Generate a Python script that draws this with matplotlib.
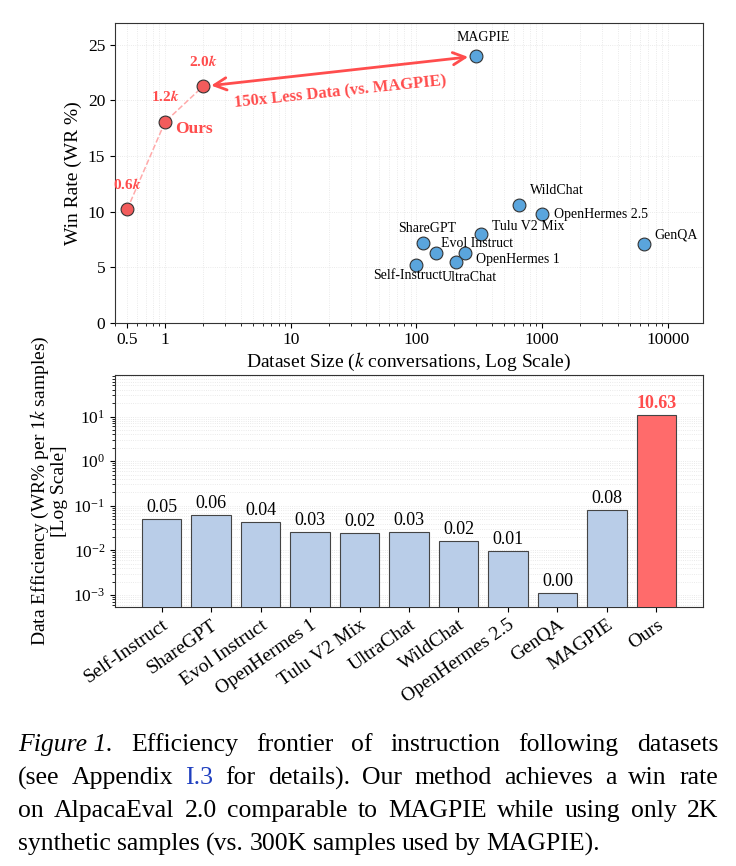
import matplotlib
matplotlib.use("Agg")
import matplotlib.pyplot as plt
from matplotlib.ticker import LogLocator, NullFormatter

plt.rcParams['font.family'] = ['Liberation Serif', 'DejaVu Serif']
plt.rcParams['mathtext.fontset'] = 'stix'

# scatter data (k conversations, win rate %)
names = ['Self-Instruct', 'ShareGPT', 'Evol Instruct', 'OpenHermes 1', 'Tulu V2 Mix',
         'UltraChat', 'WildChat', 'OpenHermes 2.5', 'GenQA', 'MAGPIE']
sizes = [100, 113, 143, 243, 326, 208, 650, 1000, 6470, 300]
win_rates = [5.2, 7.2, 6.3, 6.3, 7.95, 5.45, 10.6, 9.75, 7.1, 24.0]

ours_sizes = [0.5, 1, 2]
ours_wr = [10.2, 18.07, 21.26]
ours_tags = ['0.6', '1.2', '2.0']

# label offsets in pixels and alignment
label_pos = {
    'Self-Instruct': (-9, -11, 'center'),
    'ShareGPT': (4, 14, 'center'),
    'Evol Instruct': (5, 9, 'left'),
    'OpenHermes 1': (11, -7, 'left'),
    'Tulu V2 Mix': (11, 8, 'left'),
    'UltraChat': (13, -15, 'center'),
    'WildChat': (11, 14, 'left'),
    'OpenHermes 2.5': (12, 0, 'left'),
    'GenQA': (10, 9, 'left'),
    'MAGPIE': (7, 19, 'center'),
}

# efficiency bars
bar_names = names + ['Ours']
efficiency = [0.051, 0.063, 0.044, 0.026, 0.024, 0.026, 0.0163, 0.0098, 0.00113, 0.08, 10.63]

RED = '#FF4D4D'
BLUE = '#5AA5DD'

fig = plt.figure(figsize=(7.36, 8.66), dpi=100)
W, H = 736, 866

# ---------- top: win rate vs dataset size ----------
ax1 = fig.add_axes([115 / W, 1 - 322.7 / H, 588 / W, 300 / H])
ax1.set_xscale('log')
ax1.set_xlim(0.4, 19000)
ax1.set_ylim(0, 27)
ax1.grid(True, which='both', color='#dddddd', lw=0.6, ls=':', alpha=0.8)
ax1.set_axisbelow(True)

ax1.plot(ours_sizes, ours_wr, ls='--', color='#FFAAAA', lw=1.1, zorder=2)
ax1.scatter(ours_sizes, ours_wr, s=85, color='#F25C5C', edgecolor='#333333', lw=0.8, zorder=3)
ax1.scatter(sizes, win_rates, s=85, color=BLUE, edgecolor='#333333', lw=0.8, zorder=3)

for n, x, y in zip(names, sizes, win_rates):
    dx, dy, ha = label_pos[n]
    ax1.annotate(n, (x, y), xytext=(dx, dy), textcoords='offset pixels',
                 ha=ha, va='center', fontsize=10)

for t, x, y in zip(ours_tags, ours_sizes, ours_wr):
    ax1.annotate(t + r'$\boldsymbol{k}$', (x, y), xytext=(0, 25), textcoords='offset pixels',
                 ha='center', va='center', fontsize=11, color=RED, fontweight='bold')
ax1.annotate('Ours', (ours_sizes[1], ours_wr[1]), xytext=(10, -7), textcoords='offset pixels',
             ha='left', va='center', fontsize=12.5, color=RED, fontweight='bold')

ax1.annotate('', xy=(ours_sizes[2], ours_wr[2]), xytext=(sizes[-1], win_rates[-1]),
             arrowprops=dict(arrowstyle='<->', color=RED, lw=2, mutation_scale=22,
                             shrinkA=6, shrinkB=6), zorder=4)
ax1.text(25, 20.7, '150x Less Data (vs. MAGPIE)', rotation=6, ha='center', va='center',
         fontsize=12, color=RED, fontweight='bold')

ax1.set_xticks([0.5, 1, 10, 100, 1000, 10000])
ax1.set_xticklabels(['0.5', '1', '10', '100', '1000', '10000'])
ax1.xaxis.set_minor_locator(LogLocator(base=10, subs=range(2, 10)))
ax1.xaxis.set_minor_formatter(NullFormatter())
ax1.set_yticks([0, 5, 10, 15, 20, 25])
ax1.tick_params(labelsize=12.5)
ax1.set_xlabel('Dataset Size ($k$ conversations, Log Scale)', fontsize=14, labelpad=2)
ax1.set_ylabel('Win Rate (WR %)', fontsize=14)
for s in ax1.spines.values():
    s.set_color('#333333')

# ---------- bottom: data efficiency ----------
ax2 = fig.add_axes([115 / W, 1 - 606.7 / H, 588 / W, 231.7 / H])
ax2.set_yscale('log')
colors = ['#B9CDE8'] * (len(bar_names) - 1) + ['#FF6B6B']
bars = ax2.bar(range(len(bar_names)), efficiency, width=0.8, color=colors,
               edgecolor='#444444', lw=0.8, zorder=3)
ax2.set_ylim(0.00055, 85)
ax2.grid(True, axis='y', which='both', color='#dddddd', lw=0.6, ls=':', alpha=0.8)
ax2.set_axisbelow(True)

for i, v in enumerate(efficiency):
    last = i == len(efficiency) - 1
    ax2.annotate(f'{v:.2f}', (i, v), xytext=(0, 3), textcoords='offset pixels',
                 ha='center', va='bottom', fontsize=13,
                 color=RED if last else 'black', fontweight='bold' if last else 'normal')

ax2.set_xticks(range(len(bar_names)))
ax2.set_xticklabels(bar_names, rotation=35, ha='right', rotation_mode='anchor', fontsize=14)
ax2.yaxis.set_major_locator(LogLocator(base=10, numticks=10))
ax2.tick_params(axis='y', labelsize=12.5)
ax2.set_ylabel('Data Efficiency (WR% per 1$k$ samples)\n[Log Scale]', fontsize=14, linespacing=1.0)
for s in ax2.spines.values():
    s.set_color('#333333')

# ---------- caption ----------
cap_lines = [
    [('Figure 1.', 'italic', 'black'), ('Efficiency', 'normal', 'black'), ('frontier', 'normal', 'black'),
     ('of', 'normal', 'black'), ('instruction', 'normal', 'black'), ('following', 'normal', 'black'),
     ('datasets', 'normal', 'black')],
    [('(see', 'normal', 'black'), ('Appendix', 'normal', 'black'), ('I.3', 'normal', '#1f3fbf'),
     ('for', 'normal', 'black'), ('details).', 'normal', 'black'), ('Our', 'normal', 'black'),
     ('method', 'normal', 'black'), ('achieves', 'normal', 'black'), ('a', 'normal', 'black'),
     ('win', 'normal', 'black'), ('rate', 'normal', 'black')],
    [('on', 'normal', 'black'), ('AlpacaEval', 'normal', 'black'), ('2.0', 'normal', 'black'),
     ('comparable', 'normal', 'black'), ('to', 'normal', 'black'), ('MAGPIE', 'normal', 'black'),
     ('while', 'normal', 'black'), ('using', 'normal', 'black'), ('only', 'normal', 'black'),
     ('2K', 'normal', 'black')],
    [('synthetic', 'normal', 'black'), ('samples', 'normal', 'black'), ('(vs.', 'normal', 'black'),
     ('300K', 'normal', 'black'), ('samples', 'normal', 'black'), ('used', 'normal', 'black'),
     ('by', 'normal', 'black'), ('MAGPIE).', 'normal', 'black')],
]
cap_y = [745, 778, 811, 844]

fig.canvas.draw()
rend = fig.canvas.get_renderer()
x_left, x_right = 18, 718
for k, (line, yy) in enumerate(zip(cap_lines, cap_y)):
    texts = [fig.text(0, 1 - yy / H, w, fontsize=18.5, style=st, color=c, va='center')
             for w, st, c in line]
    widths = [t.get_window_extent(rend).width for t in texts]
    if k < len(cap_lines) - 1:
        gap = (x_right - x_left - sum(widths)) / (len(texts) - 1)
    else:
        gap = 6
    x = x_left
    for t, w in zip(texts, widths):
        t.set_x(x / W)
        x += w + gap

fig.savefig('out.png', dpi=100)
